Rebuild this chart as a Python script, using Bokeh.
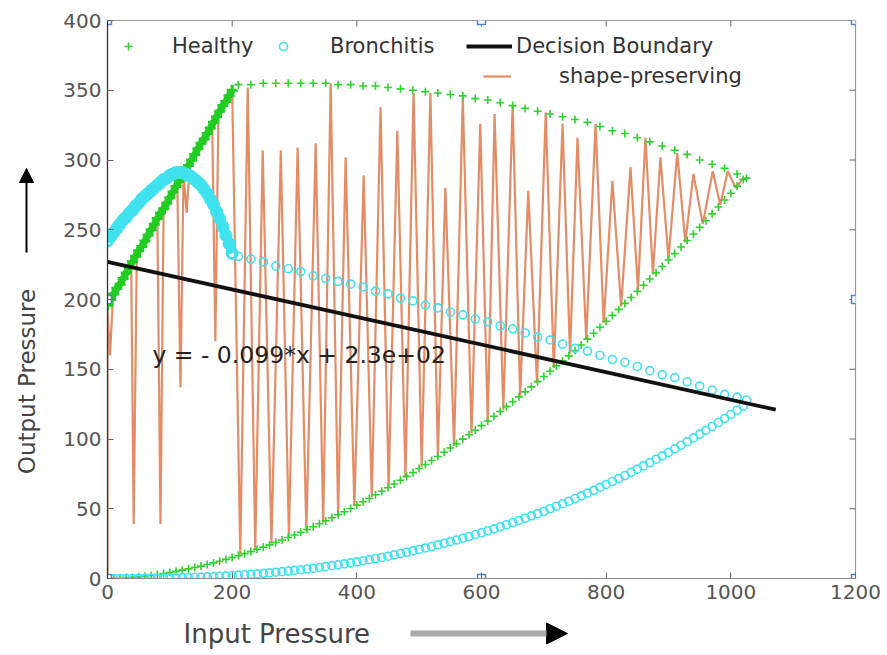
import math
from bokeh.plotting import figure
from bokeh.layouts import row, column
from bokeh.models import (Range1d, LinearAxis, Legend, LegendItem, Label, Arrow,
                          NormalHead, FixedTicker)
from bokeh.core.properties import value
from bokeh.embed import file_html
from bokeh.resources import INLINE

# ---------------- data ----------------
x_ticks = [0, 200, 400, 600, 800, 1000, 1200]
y_ticks = [0, 50, 100, 150, 200, 250, 300, 350, 400]

# Healthy: dense rising line at the left
healthy_a_x = [0, 5, 10, 15, 20, 25, 30, 35, 40, 45, 50, 55, 60, 65, 70, 75, 80, 85, 90, 95,
               100, 105, 110, 115, 120, 125, 130, 135, 140, 145, 150, 155, 160, 165, 170, 175,
               180, 185, 190, 195, 200]
healthy_a_y = [196, 200, 204, 208, 211, 215, 219, 223, 227, 231, 235, 238, 242, 246, 250, 254,
               258, 262, 265, 269, 273, 277, 281, 285, 288, 292, 296, 300, 304, 308, 312, 315,
               319, 323, 327, 331, 335, 339, 342, 346, 350]
# Healthy: upper arc
healthy_b_x = [210, 230, 250, 270, 290, 310, 330, 350, 370, 390, 410, 430, 450, 470, 490, 510,
               530, 550, 570, 590, 610, 630, 650, 670, 690, 710, 730, 750, 770, 790, 810, 830,
               850, 870, 890, 910, 930, 950, 970, 990, 1010, 1025]
healthy_b_y = [354, 354, 355, 355, 355, 355, 355, 355, 354, 354, 353, 353, 352, 351, 350, 349,
               348, 347, 346, 344, 343, 341, 339, 337, 335, 333, 331, 329, 327, 324, 321, 319,
               316, 313, 310, 307, 304, 300, 297, 294, 290, 287]
# Healthy: lower curve
healthy_c_x = [0, 10, 20, 30, 40, 50, 60, 70, 80, 90, 100, 110, 120, 130, 140, 150, 160, 170,
               180, 190, 200, 210, 220, 230, 240, 250, 260, 270, 280, 290, 300, 310, 320, 330,
               340, 350, 360, 370, 380, 390, 400, 410, 420, 430, 440, 450, 460, 470, 480, 490,
               500, 510, 520, 530, 540, 550, 560, 570, 580, 590, 600, 610, 620, 630, 640, 650,
               660, 670, 680, 690, 700, 710, 720, 730, 740, 750, 760, 770, 780, 790, 800, 810,
               820, 830, 840, 850, 860, 870, 880, 890, 900, 910, 920, 930, 940, 950, 960, 970,
               980, 990, 1000, 1010, 1020]
healthy_c_y = [0, 0.1, 0.2, 0.5, 0.8, 1.2, 1.7, 2.2, 2.9, 3.5, 4.3, 5.1, 6.0, 6.9, 7.9, 8.9,
               10.0, 11.2, 12.4, 13.7, 15.0, 16.4, 17.8, 19.3, 20.9, 22.5, 24.1, 25.8, 27.6,
               29.4, 31.2, 33.2, 35.1, 37.1, 39.2, 41.3, 43.5, 45.7, 47.9, 50.2, 52.6, 55.0,
               57.4, 60.0, 62.5, 65.1, 67.7, 70.4, 73.2, 75.9, 78.8, 81.7, 84.6, 87.5, 90.5,
               93.6, 96.7, 99.9, 103.0, 106.3, 109.6, 112.9, 116.3, 119.7, 123.2, 126.7,
               130.2, 133.8, 137.4, 141.1, 144.8, 148.6, 152.4, 156.0, 159.6, 163.4, 167.4,
               171.6, 175.8, 180.1, 184.4, 188.6, 192.9, 197.2, 201.4, 205.8, 210.2, 214.7,
               219.2, 223.7, 228.3, 232.9, 237.6, 242.3, 247.0, 251.7, 256.5, 261.4, 266.3,
               271.3, 276.2, 281.3, 286.0]

# Bronchitis: dense arc at the left
bron_a_x = [0, 5, 10, 15, 20, 25, 30, 35, 40, 45, 50, 55, 60, 65, 70, 75, 80, 85, 90, 95,
            100, 105, 110, 115, 120, 125, 130, 135, 140, 145, 150, 155, 160, 165, 170, 175,
            180, 185, 190, 195, 200]
bron_a_y = [242, 245, 248, 251, 254, 257, 259, 262, 264, 267, 269, 272, 274, 276, 278, 280,
            282, 284, 286, 287, 289, 290, 291, 291, 291, 290, 289, 288, 286, 284, 282, 279,
            276, 272, 268, 263, 258, 252, 246, 240, 233]
# Bronchitis: upper falling series
bron_b_x = [210, 230, 250, 270, 290, 310, 330, 350, 370, 390, 410, 430, 450, 470, 490, 510,
            530, 550, 570, 590, 610, 630, 650, 670, 690, 710, 730, 750, 770, 790, 810, 830,
            850, 870, 890, 910, 930, 950, 970, 990, 1010, 1025]
bron_b_y = [231, 229, 227, 224, 222, 220, 217, 215, 213, 211, 209, 206, 204, 201, 199, 196,
            194, 191, 189, 186, 184, 181, 179, 176, 173, 171, 168, 165, 163, 160, 157, 155,
            152, 149, 146, 144, 141, 138, 135, 132, 130, 128]
# Bronchitis: lower curve
bron_c_x = [0, 10, 20, 30, 40, 50, 60, 70, 80, 90, 100, 110, 120, 130, 140, 150, 160, 170,
            180, 190, 200, 210, 220, 230, 240, 250, 260, 270, 280, 290, 300, 310, 320, 330,
            340, 350, 360, 370, 380, 390, 400, 410, 420, 430, 440, 450, 460, 470, 480, 490,
            500, 510, 520, 530, 540, 550, 560, 570, 580, 590, 600, 610, 620, 630, 640, 650,
            660, 670, 680, 690, 700, 710, 720, 730, 740, 750, 760, 770, 780, 790, 800, 810,
            820, 830, 840, 850, 860, 870, 880, 890, 900, 910, 920, 930, 940, 950, 960, 970,
            980, 990, 1000, 1010, 1020]
bron_c_y = [0, 0.0, 0.0, 0.0, 0.0, 0.1, 0.1, 0.2, 0.2, 0.3, 0.4, 0.5, 0.6, 0.7, 0.9, 1.0,
            1.2, 1.4, 1.6, 1.9, 2.1, 2.4, 2.7, 3.0, 3.3, 3.7, 4.1, 4.5, 4.9, 5.3, 5.8, 6.3,
            6.8, 7.4, 7.9, 8.5, 9.2, 9.8, 10.5, 11.2, 11.9, 12.7, 13.5, 14.3, 15.1, 16.0,
            16.9, 17.8, 18.8, 19.8, 20.8, 21.9, 22.9, 24.1, 25.2, 26.4, 27.6, 28.9, 30.1,
            31.5, 32.8, 34.2, 35.6, 37.1, 38.5, 40.1, 41.6, 43.2, 44.9, 46.5, 48.2, 50.0,
            51.8, 53.6, 55.4, 57.3, 59.2, 61.2, 63.2, 65.3, 67.3, 69.5, 71.6, 73.8, 76.1,
            78.4, 80.7, 83.1, 85.5, 87.9, 90.4, 92.9, 95.5, 98.1, 100.8, 103.5, 106.2, 109.0,
            111.8, 114.7, 117.6, 120.6, 123.6]

# Decision boundary
boundary_x = [0, 1072]
boundary_y = [227, 121]
equation = "y = - 0.099*x + 2.3e+02"

# shape-preserving interpolant (vertices)
spline_x = [0, 0, 4, 9, 38, 42, 47, 80, 85, 90, 112, 117, 122, 127, 132, 168, 173, 178, 200,
            213, 225, 237, 249, 263, 278, 291, 305, 319, 334, 346, 358, 370, 382, 396, 411,
            424, 438, 451, 465, 478, 491, 504, 518, 530, 542, 556, 570, 584, 598, 610, 621,
            635, 650, 662, 675, 689, 703, 716, 730, 742, 754, 768, 783, 796, 810, 824, 839,
            851, 863, 875, 887, 900, 914, 927, 940, 955, 971, 983, 995, 1008, 1020]
spline_y = [0, 193, 160, 203, 225, 39, 232, 258, 39, 265, 283, 137, 290, 262, 297, 325, 170,
            333, 350, 17, 352, 21, 307, 25, 307, 30, 309, 34, 312, 40, 355, 45, 302, 52, 289,
            58, 338, 65, 321, 72, 348, 80, 348, 87, 280, 95, 345, 104, 326, 112, 333, 121,
            339, 131, 278, 140, 334, 151, 326, 161, 316, 171, 326, 183, 285, 195, 295, 207,
            316, 218, 302, 229, 305, 241, 290, 254, 292, 268, 292, 280, 287]

# square markers on the frame
corner_x = [0, 600, 1200, 0, 1200, 0, 600, 1200]
corner_y = [0, 0, 0, 200, 200, 400, 400, 400]

x_title = "Input Pressure"
y_title = "Output Pressure"

# ---------------- styling ----------------
FONT = "DejaVu Sans"
GREEN = "#2fd12f"
DGREEN = "#22cc22"
CYAN = "#3fe2ee"
SALMON = "#e2865e"

p = figure(width=830, height=610, x_range=Range1d(0, 1200), y_range=Range1d(0, 400),
           output_backend="svg", toolbar_location=None,
           x_axis_type=None, y_axis_type=None,
           min_border_left=50, min_border_right=32, min_border_top=20, min_border_bottom=32)
p.outline_line_color = "#999999"
p.outline_line_width = 1.2
p.background_fill_color = "white"
p.border_fill_color = "white"


def make_axis(ticks, line_color):
    ax = LinearAxis(ticker=FixedTicker(ticks=ticks))
    ax.major_tick_in = 6
    ax.major_tick_out = 0
    ax.minor_tick_line_color = None
    ax.axis_line_color = line_color
    ax.axis_line_width = 1.2
    ax.major_tick_line_color = "#666666"
    ax.major_label_text_font = FONT
    ax.major_label_text_color = "#555555"
    ax.major_label_text_font_size = "20px"
    ax.major_label_standoff = 6
    return ax


p.add_layout(make_axis(x_ticks, "#8a8a8a"), "below")
p.add_layout(make_axis(y_ticks, "#333333"), "left")

# ticks on the top and right frame edges
p.ray(x=x_ticks, y=[y_ticks[-1]] * len(x_ticks), length=6, length_units="screen",
      angle=-math.pi / 2, line_color="#666666", line_width=1)
p.ray(x=[x_ticks[-1]] * len(y_ticks), y=y_ticks, length=6, length_units="screen",
      angle=math.pi, line_color="#666666", line_width=1)

# shape-preserving line
r_sp = p.line(spline_x, spline_y, line_color=SALMON, line_width=2.2, line_alpha=0.95)

# Healthy
p.line(healthy_a_x, healthy_a_y, line_color=DGREEN, line_width=7)
r_ha = p.scatter(healthy_a_x, healthy_a_y, marker="cross", size=11, line_width=3,
                 line_color=DGREEN)
r_hb = p.scatter(healthy_b_x, healthy_b_y, marker="cross", size=8, line_width=1.6,
                 line_color=GREEN)
r_hc = p.scatter(healthy_c_x, healthy_c_y, marker="cross", size=8, line_width=1.6,
                 line_color=GREEN)

# Bronchitis
p.line(bron_a_x, bron_a_y, line_color=CYAN, line_width=9)
r_ba = p.scatter(bron_a_x, bron_a_y, marker="circle", size=10, line_width=3,
                 line_color=CYAN, fill_color=None)
r_bb = p.scatter(bron_b_x, bron_b_y, marker="circle", size=8, line_width=1.6,
                 line_color=CYAN, fill_color=None)
r_bc = p.scatter(bron_c_x, bron_c_y, marker="circle", size=8, line_width=1.6,
                 line_color=CYAN, fill_color=None)

# Decision boundary
r_db = p.line(boundary_x, boundary_y, line_color="#111111", line_width=3.8)

# frame squares
p.scatter(corner_x, corner_y, marker="square", size=8, line_width=1.5,
          line_color="#4a86c8", fill_color="white")

# equation text
p.add_layout(Label(x=72, y=160, text=equation, text_font=FONT, text_font_size="23.5px",
                   text_color="#222222", text_baseline="middle"))


def make_legend(renderer, label, loc, gw, standoff):
    return Legend(items=[LegendItem(label=label, renderers=[renderer])], location=loc,
                  orientation="horizontal", glyph_width=gw, glyph_height=22,
                  label_height=22, label_standoff=standoff, padding=0, margin=0,
                  spacing=0, border_line_color=None, background_fill_alpha=0,
                  label_text_font=FONT, label_text_font_size="21px",
                  label_text_color="#333333")


p.add_layout(make_legend(r_hb, "Healthy", (11, 520), 20, 34))
p.add_layout(make_legend(r_bb, "Bronchitis", (166, 520), 20, 37))
p.add_layout(make_legend(r_db, "Decision Boundary", (359, 520), 46, 4))
p.add_layout(make_legend(r_sp, "shape-preserving", (376, 490), 28, 48))


def deco_figure(w, h, xr, yr):
    f = figure(width=w, height=h, x_range=xr, y_range=yr, output_backend="svg",
               toolbar_location=None, x_axis_type=None, y_axis_type=None,
               min_border=0, min_border_left=0, min_border_right=0,
               min_border_top=0, min_border_bottom=0)
    f.outline_line_color = None
    f.background_fill_color = "white"
    f.border_fill_color = "white"
    return f


# left strip: y-axis title with an upward arrow (pixel-like coordinates)
left = deco_figure(57, 655, Range1d(0, 57), Range1d(0, 655))
left.text(x=[26], y=[274], text=[y_title], angle=math.pi / 2, text_align="center",
          text_baseline="middle", text_font=value(FONT), text_font_size="23px",
          text_color="#444444")
left.add_layout(Arrow(x_start=26, y_start=403, x_end=26, y_end=487,
                      line_color="black", line_width=2,
                      end=NormalHead(size=14, fill_color="black", line_color="black")))

# bottom strip: x-axis title with a right arrow; its frame lines up with the
# main frame (canvas pixels 107..855), so the range is given in canvas pixels
bottom = deco_figure(830, 45, Range1d(107, 855), Range1d(0, 45))
bottom.text(x=[183], y=[22], text=[x_title], text_align="left", text_baseline="middle",
            text_font=value(FONT), text_font_size="26px", text_color="#444444")
bottom.add_layout(Arrow(x_start=410, y_start=22, x_end=567, y_end=22,
                        line_color="#aaaaaa", line_width=6,
                        end=NormalHead(size=21, fill_color="black", line_color="black")))

layout = row(left, column(p, bottom, spacing=0), spacing=0)

open("out.html", "w").write(file_html(layout, INLINE))
